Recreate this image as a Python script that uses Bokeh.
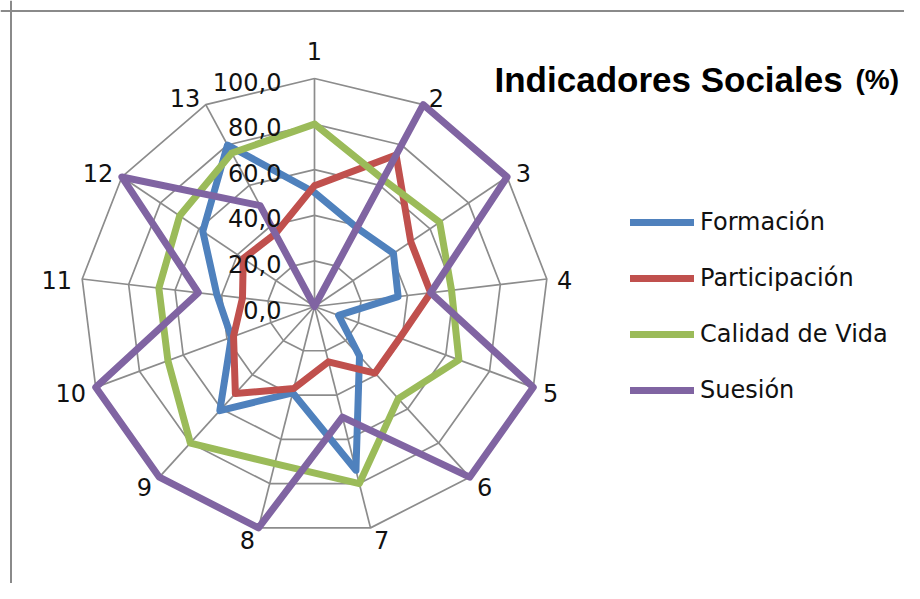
import numpy as np
from bokeh.plotting import figure
from bokeh.models import Range1d, Label, Legend, LegendItem, Span, ColumnDataSource
from bokeh.embed import file_html
from bokeh.resources import INLINE
from bokeh.core.properties import value

# ---- data ----
categories = ["1", "2", "3", "4", "5", "6", "7", "8", "9", "10", "11", "12", "13"]
formacion = [50, 39, 41, 36, 11, 29, 74, 39, 61, 38, 42, 58, 80]
participacion = [53, 75, 50, 50, 39, 39, 25, 37, 51, 37, 31, 37, 36]
calidad_de_vida = [80, 63, 65, 59, 66, 54, 80, 71, 80, 67, 67, 70, 76]
suesion = [0, 100, 100, 50, 100, 100, 50, 100, 100, 100, 50, 100, 50]
tick_values = [0, 20, 40, 60, 80, 100]
tick_labels = ["0,0", "20,0", "40,0", "60,0", "80,0", "100,0"]
series_names = ["Formación", "Participación", "Calidad de Vida", "Suesión"]
series_colors = ["#4F81BD", "#C0504D", "#9BBB59", "#8064A2"]
series_values = [formacion, participacion, calidad_de_vida, suesion]
title_main = "Indicadores Sociales"
title_unit = "(%)"

# ---- layout ----
W, H = 904, 583
CX, CY = 314, 306      # canvas pixel of the radar centre
RX, RY = 234, 228      # pixels for value 100
MAXV = 100.0

p = figure(width=W, height=H,
           x_range=Range1d(-CX / RX, (W - CX) / RX),
           y_range=Range1d(-(H - CY) / RY, CY / RY),
           output_backend="svg", toolbar_location=None,
           min_border=0, x_axis_type=None, y_axis_type=None)
p.grid.visible = False
p.outline_line_color = None
p.background_fill_color = "white"
p.border_fill_color = "white"

def px_x(px):
    return (px - CX) / RX

def px_y(py):
    return (CY - py) / RY

n = len(categories)
theta = 2 * np.pi * np.arange(n) / n
s = np.sin(theta)
c = np.cos(theta)

grid_color = "#8C8C8C"
# rings
ring_xs, ring_ys = [], []
for tv in tick_values[1:]:
    r = tv / MAXV
    ring_xs.append(list(np.append(r * s, r * s[0])))
    ring_ys.append(list(np.append(r * c, r * c[0])))
p.multi_line(ring_xs, ring_ys, line_color=grid_color, line_width=1.7)
# spokes
p.segment(x0=np.zeros(n), y0=np.zeros(n), x1=s, y1=c, line_color=grid_color, line_width=1.7)

# series
items = []
for name, vals, col in zip(series_names, series_values, series_colors):
    r = np.array(vals, dtype=float) / MAXV
    xs = np.append(r * s, r[0] * s[0])
    ys = np.append(r * c, r[0] * c[0])
    rend = p.line(xs, ys, line_color=col, line_width=7, line_join="round", line_cap="round")
    items.append(LegendItem(label=name, renderers=[rend]))

# category labels
nchar = np.array([len(t) for t in categories])
sgn = np.where(np.abs(s) < 0.01, 0, np.sign(s))
x_off = 9 * s + sgn * (7.5 * nchar + 1.5)
y_off = -10 * c + 2 - 20 * (np.abs(s) < 0.01)
lab_src = ColumnDataSource(dict(x=s, y=c, text=categories, xo=x_off, yo=y_off))
p.text(x="x", y="y", text="text", x_offset="xo", y_offset="yo", source=lab_src,
       text_align="center", text_baseline="middle", text_color="#111111",
       text_font=value("DejaVu Sans"), text_font_size="24px")

# tick labels along axis 1
tick_src = ColumnDataSource(dict(x=np.zeros(len(tick_values)),
                                 y=np.array(tick_values) / MAXV, text=tick_labels))
p.text(x="x", y="y", text="text", source=tick_src, x_offset=-33, y_offset=3,
       text_align="right", text_baseline="middle", text_color="#111111",
       text_font=value("DejaVu Sans"), text_font_size="24px")

# legend
legend = Legend(items=items, location=(630, 173), orientation="vertical",
                glyph_width=64, glyph_height=40, label_height=40, spacing=16,
                padding=0, margin=0, label_standoff=6,
                border_line_color=None, background_fill_alpha=0,
                label_text_font="DejaVu Sans", label_text_font_size="24px",
                label_text_color="#111111")
p.add_layout(legend)

# title
p.add_layout(Label(x=px_x(494), y=px_y(79), text=title_main, text_font="Liberation Sans",
                   text_font_style="bold", text_font_size="35px", text_baseline="alphabetic",
                   text_align="left", text_color="#000000"))
p.add_layout(Label(x=px_x(855), y=px_y(79), text=title_unit, text_font="Liberation Sans",
                   text_font_style="bold", text_font_size="28px", text_baseline="alphabetic",
                   text_align="left", text_color="#000000"))

# chart-area border (left and top edges visible)
p.add_layout(Span(location=px_x(10.5), dimension="height", line_color="#8A8A8A", line_width=2))
p.add_layout(Span(location=px_y(10.5), dimension="width", line_color="#8A8A8A", line_width=2))

open("out.html", "w").write(file_html(p, INLINE))
